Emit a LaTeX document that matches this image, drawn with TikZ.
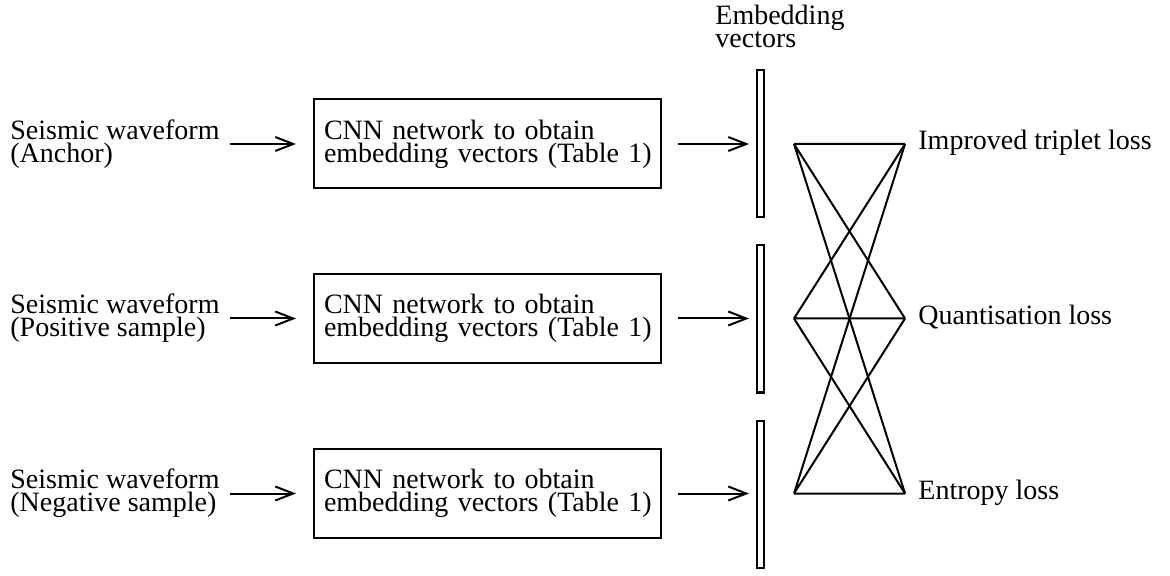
\documentclass[tikz,border=0pt]{standalone}
\usepackage{fontspec}
\setmainfont{Liberation Serif}
\usetikzlibrary{arrows.meta,positioning}

\begin{document}
\begin{tikzpicture}[
        x=0.5pt, y=-0.5pt,
        txt/.style={
            inner sep=0pt,
            align=left,
            font=\fontsize{14}{11.5}\selectfont
        },
        source/.style={txt, anchor=west},
        cnnbox/.style={txt, draw, line width=1pt, text width=163pt, inner xsep=5.25pt, minimum height=44.5pt},
        embbar/.style={draw, line width=1pt, minimum width=3.5pt, minimum height=73.5pt, inner sep=0pt},
        loss/.style={txt, anchor=west, text height=9.5pt, text depth=3.5pt},
        flow/.style={-{Straight Barb[length=9pt,width=7pt]}, line width=1pt},
        link/.style={line width=1pt},
        node distance=6.5pt
    ]
        \useasboundingbox (0,0) rectangle (1170,576);

        \node[source] (srcA) at (10,144) {Seismic waveform\\(Anchor)};
        \node[source] (srcB) at (10,318.5) {Seismic waveform\\(Positive sample)};
        \node[source] (srcC) at (10,493.5) {Seismic waveform\\(Negative sample)};

        \node[cnnbox] (cnnA) at (487,144) {CNN network to obtain\\\mbox{embedding vectors (Table 1)}};
        \node[cnnbox] (cnnB) at (487,318.5) {CNN network to obtain\\\mbox{embedding vectors (Table 1)}};
        \node[cnnbox] (cnnC) at (487,493.5) {CNN network to obtain\\\mbox{embedding vectors (Table 1)}};

        \node[embbar] (embA) at (760.5,143.5) {};
        \node[embbar] (embB) at (760.5,319) {};
        \node[embbar] (embC) at (760.5,494.5) {};
        \node[txt, anchor=north west] (embtitle) at (715,5) {Embedding\\vectors};

        \coordinate (jA) at (794,144);
        \coordinate (jB) at (794,318.5);
        \coordinate (jC) at (794,493.5);
        \coordinate (kA) at (905,144);
        \coordinate (kB) at (905,318.5);
        \coordinate (kC) at (905,493.5);

        \node[loss, right=of kA] (triplet) {Improved triplet loss};
        \node[loss, right=of kB] (quant) {Quantisation loss};
        \node[loss, right=of kC] (entropy) {Entropy loss};

        \draw[flow, shorten <=5pt, shorten >=8.25pt] (srcA.east) -- (cnnA.west);
        \draw[flow, shorten <=5pt, shorten >=8.25pt] (srcB.east) -- (cnnB.west);
        \draw[flow, shorten <=5pt, shorten >=8.25pt] (srcC.east) -- (cnnC.west);
        \draw[flow, shorten <=8.25pt, shorten >=3.5pt] (cnnA.east) -- (cnnA.east -| embA.west);
        \draw[flow, shorten <=8.25pt, shorten >=3.5pt] (cnnB.east) -- (cnnB.east -| embB.west);
        \draw[flow, shorten <=8.25pt, shorten >=3.5pt] (cnnC.east) -- (cnnC.east -| embC.west);

        \draw[link] (jA) -- (kA) (jA) -- (kB) (jA) -- (kC);
        \draw[link] (jB) -- (kA) (jB) -- (kB) (jB) -- (kC);
        \draw[link] (jC) -- (kA) (jC) -- (kB) (jC) -- (kC);
    \end{tikzpicture}
\end{document}
